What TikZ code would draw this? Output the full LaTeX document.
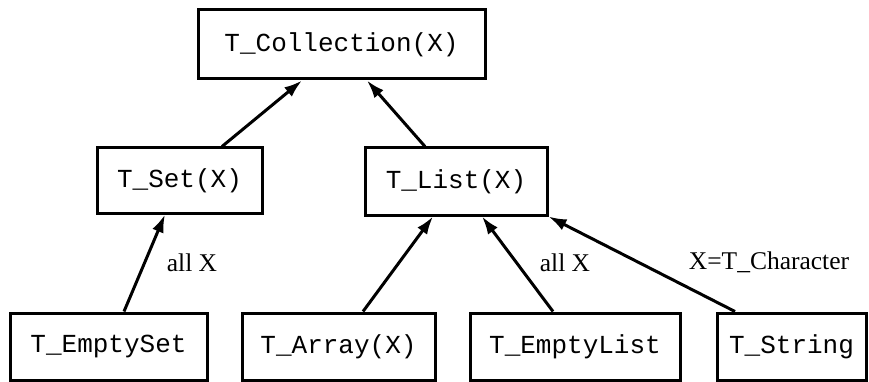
\documentclass[tikz,border=0pt]{standalone}
\usepackage{fontspec}
\setmainfont{Liberation Serif}
\setmonofont{Liberation Mono}
\usetikzlibrary{arrows.meta}
\begin{document}
\begin{tikzpicture}[x=1pt,y=-1pt,
  cls/.style={draw,line width=3pt,rectangle,inner sep=0pt,align=center,
    font=\fontsize{26}{30}\selectfont\ttfamily},
  inh/.style={line width=3pt,-{Latex[length=18pt,width=12pt]}},
  lbl/.style={inner sep=0pt,font=\fontsize{25.5}{30}\selectfont}]
\useasboundingbox (0,0) rectangle (869,382);
\node[cls,minimum width=287pt,minimum height=69pt] (Coll) at (341.5,44.5) {T\_Collection(X)};
\node[cls,minimum width=165pt,minimum height=65pt] (Set) at (179.5,180.5) {T\_Set(X)};
\node[cls,minimum width=182pt,minimum height=67pt] (List) at (456,181.5) {T\_List(X)};
\node[cls,minimum width=197pt,minimum height=67pt] (EmptySet) at (108.5,346.5) {T\_EmptySet};
\node[cls,minimum width=193pt,minimum height=67pt] (Array) at (338.5,346.5) {T\_Array(X)};
\node[cls,minimum width=210pt,minimum height=67pt] (EmptyList) at (575,346.5) {T\_EmptyList};
\node[cls,minimum width=149pt,minimum height=67pt] (String) at (791.5,346.5) {T\_String};
\draw[inh] ([xshift=42.5pt]Set.north) -- ([xshift=-39.5pt]Coll.south);
\draw[inh] ([xshift=-31pt]List.north) -- ([xshift=25.5pt]Coll.south);
\draw[inh] ([xshift=15.5pt]EmptySet.north) -- ([xshift=-14.5pt]Set.south);
\draw[inh] ([xshift=24.5pt]Array.north) -- ([xshift=-23pt]List.south);
\draw[inh] ([xshift=-22pt]EmptyList.north) -- ([xshift=26pt]List.south);
\draw[inh] ([xshift=-56.5pt]String.north) -- (List.south east);
\node[lbl] (l1) at (192,263) {all X};
\node[lbl] (l2) at (565,263) {all X};
\node[lbl] (l3) at (769,262) {X=T\_Character};
\end{tikzpicture}
\end{document}
